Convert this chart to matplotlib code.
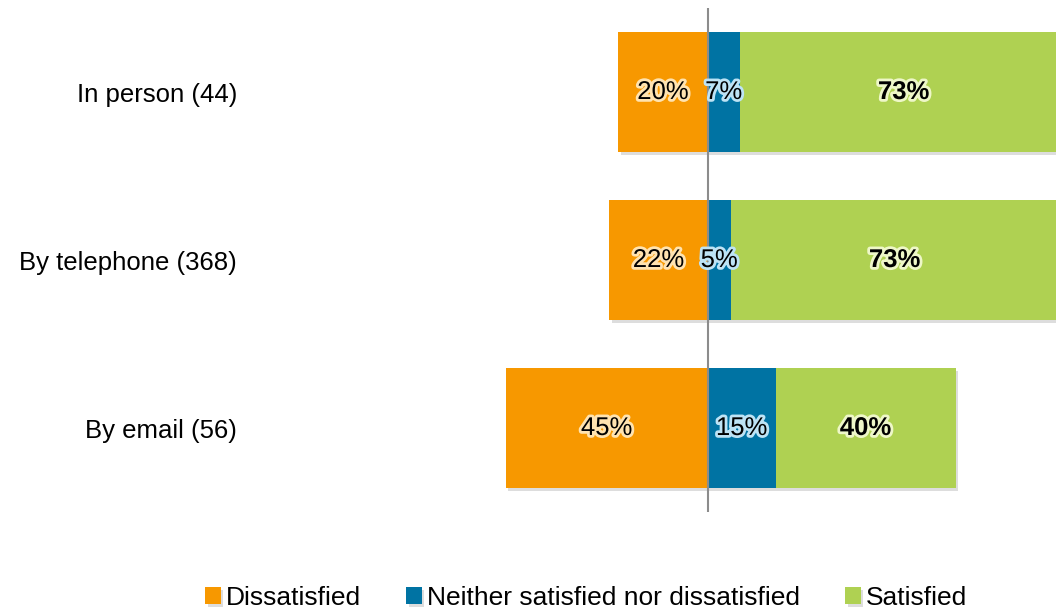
import matplotlib
matplotlib.use("Agg")
import matplotlib.pyplot as plt
import matplotlib.patheffects as pe
import numpy as np

plt.rcParams['font.family'] = ['Liberation Sans', 'DejaVu Sans']

categories = ["In person (44)", "By telephone (368)", "By email (56)"]
dissatisfied = [20, 22, 45]
neither = [7, 5, 15]
satisfied = [73, 73, 40]
series_names = ["Dissatisfied", "Neither satisfied nor dissatisfied", "Satisfied"]
colors = ["#F79800", "#0073A3", "#AFD152"]
glow = ["#FFE3B0", "#BDE3F5", "#EEF7C8"]

fig = plt.figure(figsize=(10.56, 6.12), dpi=100)
ax = fig.add_axes([258/1056, 1-512/612, 1-258/1056, 504/612])

y = np.arange(len(categories))
h = 0.714
shadow = [pe.SimplePatchShadow(offset=(2, -2), shadow_rgbFace='#AAAAAA', alpha=0.4), pe.Normal()]

d = np.array(dissatisfied, dtype=float)
n = np.array(neither, dtype=float)
s = np.array(satisfied, dtype=float)

b1 = ax.barh(y, -d, height=h, color=colors[0], label=series_names[0], zorder=2)
b2 = ax.barh(y, n, height=h, color=colors[1], label=series_names[1], zorder=2)
b3 = ax.barh(y, s, left=n, height=h, color=colors[2], label=series_names[2], zorder=2)
for bars in (b1, b2, b3):
    for p in bars:
        p.set_path_effects(shadow)

ax.axvline(0, ymin=0, ymax=1.0, color="#8C8C8C", lw=1.5, zorder=3)

fs = 18.5
for i in range(len(categories)):
    ax.text(-d[i]/2, y[i], f"{dissatisfied[i]}%", ha="center", va="center", fontsize=fs,
            color="black", zorder=5,
            path_effects=[pe.withStroke(linewidth=4, foreground=glow[0])])
    ax.text(n[i]/2, y[i], f"{neither[i]}%", ha="center", va="center", fontsize=fs,
            color="black", zorder=5,
            path_effects=[pe.withStroke(linewidth=4, foreground=glow[1])])
    ax.text(n[i] + s[i]/2, y[i], f"{satisfied[i]}%", ha="center", va="center", fontsize=fs,
            color="black", fontweight="bold", zorder=5,
            path_effects=[pe.withStroke(linewidth=4, foreground=glow[2])])

ax.set_xlim(-100, 348/4.5)
ax.set_ylim(2.5, -0.5)
ax.set_yticks(y)
ax.set_yticklabels(categories, fontsize=fs)
ax.tick_params(axis='y', length=0, pad=15)
ax.set_xticks([])
for sp in ax.spines.values():
    sp.set_visible(False)

fig.legend(handles=[b1, b2, b3], labels=series_names, loc="center",
           bbox_to_anchor=(586/1056, 1-598/612), ncol=3, frameon=False,
           fontsize=19, handlelength=0.6, handleheight=0.6, handletextpad=0.2,
           columnspacing=1.7, borderpad=0.2)

fig.savefig("out.png", dpi=100)
